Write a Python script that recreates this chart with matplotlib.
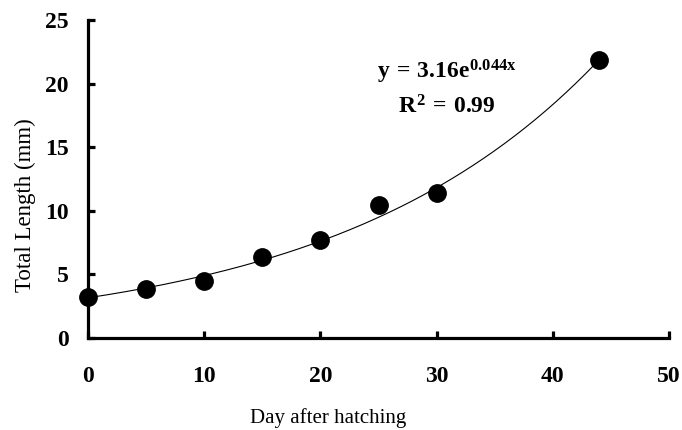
import numpy as np
import matplotlib
matplotlib.use("Agg")
import matplotlib.pyplot as plt

plt.rcParams['font.family'] = ['Liberation Serif', 'DejaVu Serif']
plt.rcParams['mathtext.fontset'] = 'custom'
plt.rcParams['mathtext.rm'] = 'Liberation Serif:bold'
plt.rcParams['mathtext.it'] = 'Liberation Serif:bold'
plt.rcParams['mathtext.bf'] = 'Liberation Serif:bold'

# Data
days = [0, 5, 10, 15, 20, 25, 30, 44]
length_mm = [3.2, 3.85, 4.5, 6.4, 7.7, 10.5, 11.4, 21.9]

# Exponential fit shown on chart
fit_a = 3.16
fit_b = 0.044

x_ticks = [0, 10, 20, 30, 40, 50]
y_ticks = [0, 5, 10, 15, 20, 25]

fig = plt.figure(figsize=(6.82, 4.30), dpi=100)
ax = fig.add_axes([0.129, 0.214, 0.852, 0.739])

xf = np.linspace(0, 44, 200)
ax.plot(xf, fit_a * np.exp(fit_b * xf), color='black', lw=0.8, zorder=2)
ax.plot(days, length_mm, 'o', color='black', markersize=12.5, zorder=3, clip_on=False)

ax.set_xlim(0, 50)
ax.set_ylim(0, 25)
ax.set_xticks(x_ticks)
ax.set_yticks(y_ticks)

for s in ['top', 'right']:
    ax.spines[s].set_visible(False)
for s in ['left', 'bottom']:
    ax.spines[s].set_linewidth(2.3)

ax.tick_params(axis='both', direction='in', length=5, width=2.3,
               labelsize=17)
ax.tick_params(axis='x', pad=20)
ax.tick_params(axis='y', pad=14)
for lab in ax.get_xticklabels() + ax.get_yticklabels():
    lab.set_fontweight('bold')

ax.set_xlabel('Day after hatching', fontsize=15)
ax.set_ylabel('Total Length (mm)', fontsize=16.5)
ax.xaxis.set_label_coords(0.413, -0.252)
ax.xaxis.label.set_va('center')
ax.yaxis.set_label_coords(-0.108, 0.418)
ax.yaxis.label.set_va('center')

ax.text(30.9, 20.9, r'$y\,=\,3.16e^{0.044x}$', fontsize=17, ha='center', va='center')
ax.text(30.9, 18.2, r'$R^{2}\,=\,0.99$', fontsize=17, ha='center', va='center')

fig.savefig('out.png', dpi=100)
